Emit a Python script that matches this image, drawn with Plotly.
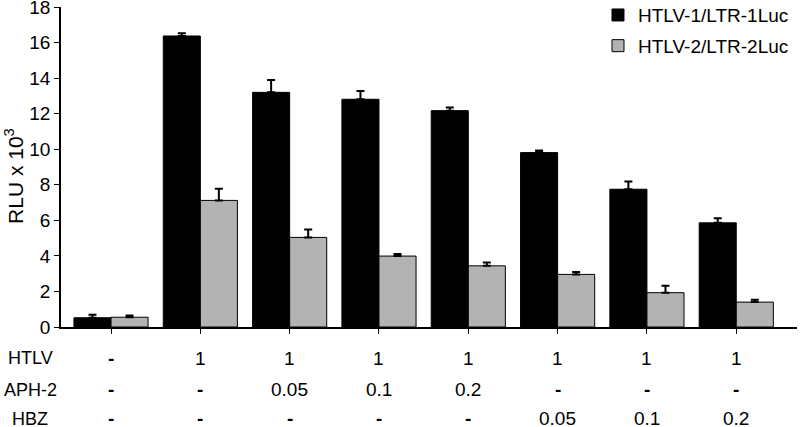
import plotly.graph_objects as go

groups = ["g1", "g2", "g3", "g4", "g5", "g6", "g7", "g8"]
htlv1 = [0.52, 16.37, 13.2, 12.81, 12.17, 9.81, 7.75, 5.86]
htlv1_err = [0.17, 0.15, 0.7, 0.47, 0.17, 0.12, 0.43, 0.26]
htlv2 = [0.55, 7.12, 5.04, 3.99, 3.44, 2.96, 1.93, 1.40]
htlv2_err = [0.10, 0.65, 0.45, 0.11, 0.19, 0.13, 0.39, 0.13]

row_labels = ["HTLV", "APH-2", "HBZ"]
row_htlv = ["-", "1", "1", "1", "1", "1", "1", "1"]
row_aph2 = ["-", "-", "0.05", "0.1", "0.2", "-", "-", "-"]
row_hbz = ["-", "-", "-", "-", "-", "0.05", "0.1", "0.2"]
y_ticks = [0, 2, 4, 6, 8, 10, 12, 14, 16, 18]

FONT = "Liberation Sans, Arial, sans-serif"

fig = go.Figure()
fig.add_trace(go.Bar(
    x=groups, y=htlv1, name="HTLV-1/LTR-1Luc", legendgroup="a",
    marker=dict(color="black", line=dict(color="black", width=1)),
    error_y=dict(type="data", array=htlv1_err, arrayminus=[0]*8, symmetric=False,
                 color="black", thickness=2, width=4),
))
fig.add_trace(go.Bar(
    x=groups, y=htlv2, name="HTLV-2/LTR-2Luc", legendgroup="b",
    marker=dict(color="#b3b3b3", line=dict(color="black", width=1)),
    error_y=dict(type="data", array=htlv2_err, arrayminus=[0]*8, symmetric=False,
                 color="black", thickness=2, width=4),
))

row_y = [-0.097, -0.196, -0.287]
for lab, yy in zip(row_labels, row_y):
    fig.add_annotation(x=-0.042, y=yy, xref="paper", yref="paper", text=lab,
                       showarrow=False, xanchor="center", yanchor="middle",
                       font=dict(size=18, color="black", family=FONT))
for row, yy in zip([row_htlv, row_aph2, row_hbz], row_y):
    for g, t in zip(groups, row):
        label = "<b>-</b>" if t == "-" else t
        fig.add_annotation(x=g, y=yy, xref="x", yref="paper", text=label,
                           showarrow=False, xanchor="center", yanchor="middle",
                           font=dict(size=19, color="black", family=FONT))

# y-axis title
fig.add_annotation(x=-0.0639, y=0.472, xref="paper", yref="paper",
                   text="RLU x 10<sup>3</sup>", textangle=-90, showarrow=False,
                   xanchor="center", yanchor="middle",
                   font=dict(size=21, color="black", family=FONT))

fig.update_layout(
    width=800, height=427,
    margin=dict(l=61, r=3, t=7, b=100, autoexpand=False),
    plot_bgcolor="white", paper_bgcolor="white",
    barmode="group", bargap=0.17, bargroupgap=0,
    font=dict(family=FONT, color="black", size=19),
    showlegend=True,
    legend=dict(x=0.7296, y=1.034, xanchor="left", yanchor="top",
                font=dict(size=19, family=FONT), tracegroupgap=3,
                bgcolor="rgba(0,0,0,0)"),
    xaxis=dict(range=[-0.56, 7.68], showticklabels=False, ticks="outside",
               ticklen=5, tickcolor="black", showline=True, linecolor="black",
               linewidth=1.5, showgrid=False, zeroline=False),
    yaxis=dict(range=[0, 18], tickmode="array", tickvals=y_ticks,
               ticks="outside", ticklen=5, ticklabeloverflow="allow",
               tickcolor="black", showline=True, linecolor="black", linewidth=1.5,
               showgrid=False, zeroline=False,
               tickfont=dict(size=19, family=FONT)),
)

fig.write_html("out.html", config={"displayModeBar": False},
               post_script="document.body.style.margin='0';document.body.style.overflow='hidden';")
